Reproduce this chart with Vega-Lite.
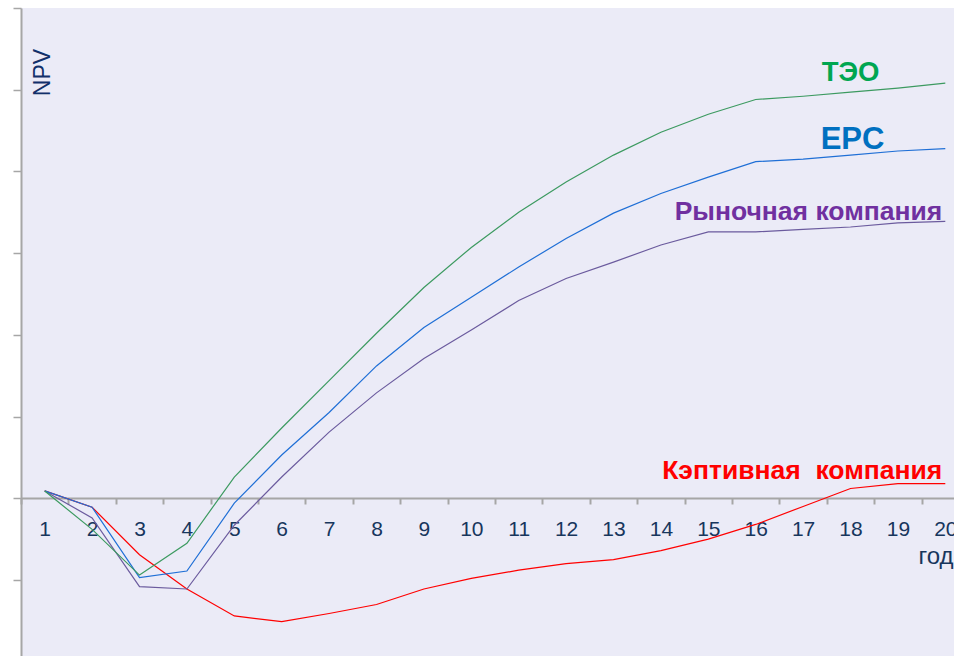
{
  "$schema": "https://vega.github.io/schema/vega-lite/v6.json",
  "autosize": "none",
  "width": 933,
  "height": 648,
  "padding": {"left": 21, "top": 8, "right": 0, "bottom": 0},
  "background": "#ffffff",
  "config": {
    "view": {"fill": "#ebebf7", "stroke": null},
    "font": "Liberation Sans"
  },
  "datasets": {
    "npv": [
      {"year": 1, "series": "Кэптивная компания", "npv": 0.09},
      {"year": 2, "series": "Кэптивная компания", "npv": -0.11},
      {"year": 3, "series": "Кэптивная компания", "npv": -0.69},
      {"year": 4, "series": "Кэптивная компания", "npv": -1.11},
      {"year": 5, "series": "Кэптивная компания", "npv": -1.44},
      {"year": 6, "series": "Кэптивная компания", "npv": -1.51},
      {"year": 7, "series": "Кэптивная компания", "npv": -1.41},
      {"year": 8, "series": "Кэптивная компания", "npv": -1.30},
      {"year": 9, "series": "Кэптивная компания", "npv": -1.11},
      {"year": 10, "series": "Кэптивная компания", "npv": -0.98},
      {"year": 11, "series": "Кэптивная компания", "npv": -0.88},
      {"year": 12, "series": "Кэптивная компания", "npv": -0.80},
      {"year": 13, "series": "Кэптивная компания", "npv": -0.75},
      {"year": 14, "series": "Кэптивная компания", "npv": -0.64},
      {"year": 15, "series": "Кэптивная компания", "npv": -0.50},
      {"year": 16, "series": "Кэптивная компания", "npv": -0.32},
      {"year": 17, "series": "Кэптивная компания", "npv": -0.10},
      {"year": 18, "series": "Кэптивная компания", "npv": 0.12},
      {"year": 19, "series": "Кэптивная компания", "npv": 0.18},
      {"year": 20, "series": "Кэптивная компания", "npv": 0.18},
      {"year": 1, "series": "Рыночная компания", "npv": 0.09},
      {"year": 2, "series": "Рыночная компания", "npv": -0.24},
      {"year": 3, "series": "Рыночная компания", "npv": -1.08},
      {"year": 4, "series": "Рыночная компания", "npv": -1.11},
      {"year": 5, "series": "Рыночная компания", "npv": -0.33},
      {"year": 6, "series": "Рыночная компания", "npv": 0.26},
      {"year": 7, "series": "Рыночная компания", "npv": 0.81},
      {"year": 8, "series": "Рыночная компания", "npv": 1.29},
      {"year": 9, "series": "Рыночная компания", "npv": 1.71},
      {"year": 10, "series": "Рыночная компания", "npv": 2.06},
      {"year": 11, "series": "Рыночная компания", "npv": 2.42},
      {"year": 12, "series": "Рыночная компания", "npv": 2.69},
      {"year": 13, "series": "Рыночная компания", "npv": 2.89},
      {"year": 14, "series": "Рыночная компания", "npv": 3.10},
      {"year": 15, "series": "Рыночная компания", "npv": 3.26},
      {"year": 16, "series": "Рыночная компания", "npv": 3.26},
      {"year": 17, "series": "Рыночная компания", "npv": 3.29},
      {"year": 18, "series": "Рыночная компания", "npv": 3.32},
      {"year": 19, "series": "Рыночная компания", "npv": 3.37},
      {"year": 20, "series": "Рыночная компания", "npv": 3.39},
      {"year": 1, "series": "EPC", "npv": 0.09},
      {"year": 2, "series": "EPC", "npv": -0.11},
      {"year": 3, "series": "EPC", "npv": -0.97},
      {"year": 4, "series": "EPC", "npv": -0.89},
      {"year": 5, "series": "EPC", "npv": -0.06},
      {"year": 6, "series": "EPC", "npv": 0.53},
      {"year": 7, "series": "EPC", "npv": 1.05},
      {"year": 8, "series": "EPC", "npv": 1.62},
      {"year": 9, "series": "EPC", "npv": 2.09},
      {"year": 10, "series": "EPC", "npv": 2.46},
      {"year": 11, "series": "EPC", "npv": 2.83},
      {"year": 12, "series": "EPC", "npv": 3.18},
      {"year": 13, "series": "EPC", "npv": 3.49},
      {"year": 14, "series": "EPC", "npv": 3.73},
      {"year": 15, "series": "EPC", "npv": 3.93},
      {"year": 16, "series": "EPC", "npv": 4.12},
      {"year": 17, "series": "EPC", "npv": 4.15},
      {"year": 18, "series": "EPC", "npv": 4.20},
      {"year": 19, "series": "EPC", "npv": 4.25},
      {"year": 20, "series": "EPC", "npv": 4.28},
      {"year": 1, "series": "ТЭО", "npv": 0.09},
      {"year": 2, "series": "ТЭО", "npv": -0.38},
      {"year": 3, "series": "ТЭО", "npv": -0.94},
      {"year": 4, "series": "ТЭО", "npv": -0.55},
      {"year": 5, "series": "ТЭО", "npv": 0.26},
      {"year": 6, "series": "ТЭО", "npv": 0.86},
      {"year": 7, "series": "ТЭО", "npv": 1.44},
      {"year": 8, "series": "ТЭО", "npv": 2.02},
      {"year": 9, "series": "ТЭО", "npv": 2.58},
      {"year": 10, "series": "ТЭО", "npv": 3.07},
      {"year": 11, "series": "ТЭО", "npv": 3.50},
      {"year": 12, "series": "ТЭО", "npv": 3.87},
      {"year": 13, "series": "ТЭО", "npv": 4.20},
      {"year": 14, "series": "ТЭО", "npv": 4.48},
      {"year": 15, "series": "ТЭО", "npv": 4.70},
      {"year": 16, "series": "ТЭО", "npv": 4.88},
      {"year": 17, "series": "ТЭО", "npv": 4.92},
      {"year": 18, "series": "ТЭО", "npv": 4.97},
      {"year": 19, "series": "ТЭО", "npv": 5.02},
      {"year": 20, "series": "ТЭО", "npv": 5.08}
    ],
    "labels": [
      {"year": 18, "npv": 5.20, "label": "ТЭО", "anchor": "teo"},
      {"year": 18, "npv": 4.39, "label": "EPC", "anchor": "epc"},
      {"year": 20, "npv": 3.50, "label": "Рыночная компания", "anchor": "right"},
      {"year": 20, "npv": 0.33, "label": "Кэптивная\u00a0 компания", "anchor": "right"}
    ]
  },
  "encoding": {
    "x": {
      "field": "year",
      "type": "ordinal",
      "scale": {"type": "band", "domain": [1,2,3,4,5,6,7,8,9,10,11,12,13,14,15,16,17,18,19,20], "range": [0, 948], "paddingInner": 0, "paddingOuter": 0},
      "axis": {
        "title": "годы",
        "titleX": 897,
        "titleY": 58,
        "titleAlign": "left",
        "titleBaseline": "middle",
        "titleFontSize": 24,
        "titleFontWeight": "normal",
        "titleColor": "#17365d",
        "labelAngle": 0,
        "labelFontSize": 21,
        "labelColor": "#17365d",
        "labelPadding": 14,
        "tickBand": "extent",
        "tickSize": 6,
        "tickColor": "#a6a6a6",
        "tickWidth": 2,
        "domainColor": "#a6a6a6",
        "domainWidth": 2,
        "offset": -158,
        "grid": false
      }
    },
    "y": {
      "field": "npv",
      "type": "quantitative",
      "scale": {"domain": [-1.93, 6], "nice": false, "zero": false},
      "axis": {
        "title": "NPV",
        "titleAngle": -90,
        "titleX": 21,
        "titleY": 64,
        "titleAlign": "center",
        "titleBaseline": "middle",
        "titleFontSize": 23,
        "titleFontWeight": "normal",
        "titleColor": "#12306a",
        "values": [-1, 0, 1, 2, 3, 4, 5, 6],
        "labels": false,
        "tickSize": 8,
        "tickColor": "#a6a6a6",
        "tickWidth": 1.5,
        "domainColor": "#a6a6a6",
        "domainWidth": 2,
        "grid": false
      }
    }
  },
  "layer": [
    {
      "mark": {"type": "rule", "color": "#dedef0", "strokeWidth": 2},
      "encoding": {"y": {"datum": 0.94}, "x": null}
    },
    {
      "data": {"name": "npv"},
      "mark": {"type": "line", "strokeWidth": 1.2},
      "encoding": {
        "color": {
          "field": "series",
          "type": "nominal",
          "scale": {"domain": ["Кэптивная компания", "Рыночная компания", "EPC", "ТЭО"], "range": ["#ff0000", "#6b5b9e", "#1f6fd6", "#3c9a60"]},
          "legend": null
        }
      }
    },
    {
      "data": {"name": "labels"},
      "transform": [{"filter": "datum.anchor == 'teo'"}],
      "mark": {"type": "text", "fontSize": 27.5, "fontWeight": "bold", "align": "center", "baseline": "middle", "color": "#00a651"},
      "encoding": {
        "text": {"field": "label"}
      }
    },
    {
      "data": {"name": "labels"},
      "transform": [{"filter": "datum.anchor == 'epc'"}],
      "mark": {"type": "text", "fontSize": 31, "fontWeight": "bold", "align": "center", "baseline": "middle", "dx": 2, "color": "#0070c0"},
      "encoding": {
        "text": {"field": "label"}
      }
    },
    {
      "data": {"name": "labels"},
      "transform": [{"filter": "datum.anchor == 'right'"}],
      "mark": {"type": "text", "fontSize": 26.5, "fontWeight": "bold", "align": "right", "baseline": "middle", "dx": -3},
      "encoding": {
        "text": {"field": "label"},
        "color": {
          "field": "label",
          "type": "nominal",
          "scale": {"domain": ["Рыночная компания", "Кэптивная\u00a0 компания"], "range": ["#7030a0", "#ff0000"]},
          "legend": null
        }
      }
    }
  ],
  "resolve": {"scale": {"color": "independent"}}
}
